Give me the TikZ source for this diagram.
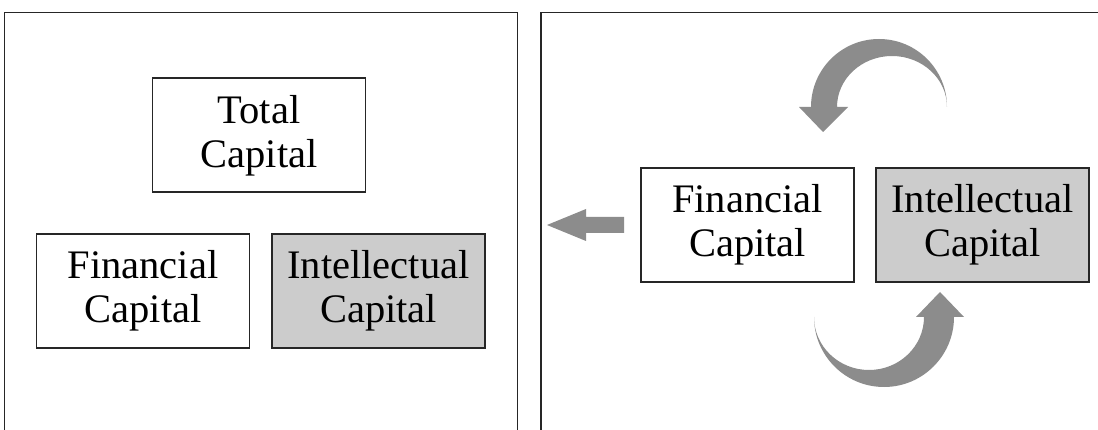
\documentclass[tikz,border=0pt]{standalone}
\usepackage{fontspec}
\setmainfont{Liberation Serif}
\begin{document}
\begin{tikzpicture}[x=1pt,y=-1pt,
  frameline/.style={draw=black!85, line width=1.6pt},
  capbox/.style={draw=black!85, line width=1.6pt, minimum width=213pt, minimum height=114pt,
    inner sep=0pt, align=center, font=\fontsize{40.5}{44}\selectfont},
  lightbox/.style={capbox, fill=black!20},
  blockarrow/.style={fill=black!45, draw=none}]
\useasboundingbox (0,0) rectangle (1098,430);
\fill[white] (0,0) rectangle (1098,430);

% panel frames, open at the bottom
\draw[frameline] (4.5,432) -- (4.5,12.5) -- (517.5,12.5) -- (517.5,432);
\draw[frameline] (541,432) -- (541,12.5) -- (1100,12.5);

% left panel: composition of total capital
\node[capbox]   (total) at (259,135.3) {Total\\Capital};
\node[capbox]   (finL)  at (143,291)   {Financial\\Capital};
\node[lightbox] (intL)  at (378.5,291) {Intellectual\\Capital};

% right panel: the two capitals feeding each other
\node[capbox]   (finR) at (747.5,225) {Financial\\Capital};
\node[lightbox] (intR) at (982.5,225) {Intellectual\\Capital};

% outward arrow from financial capital
\fill[blockarrow] (547,225) -- (586,209) -- (586,217) -- (624,217) -- (624,233)
  -- (586,233) -- (586,241) -- cycle;

% curved arrow over the top, pointing down to financial capital
\fill[blockarrow] (823,132) -- (799,107) -- (811,107)
  arc[start angle=180, end angle=360, radius=68]
  arc[start angle=360, end angle=180, x radius=55, y radius=51]
  -- (848,107) -- cycle;

% curved arrow underneath, pointing up to intellectual capital
\fill[blockarrow] (940,292) -- (964,317) -- (954,317)
  arc[start angle=0, end angle=180, radius=70]
  arc[start angle=180, end angle=0, x radius=55, y radius=53]
  -- (916,317) -- cycle;
\end{tikzpicture}
\end{document}
